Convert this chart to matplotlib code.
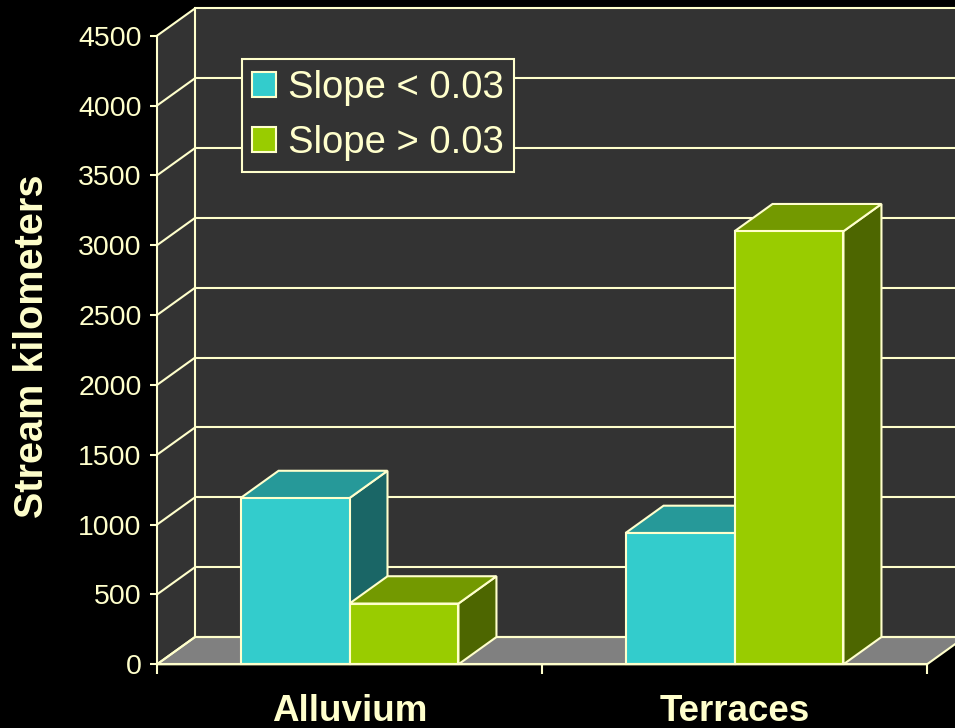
import matplotlib
matplotlib.use("Agg")
import matplotlib.pyplot as plt
from matplotlib.patches import Polygon, Rectangle

# ---- data -------------------------------------------------------------
categories = ["Alluvium", "Terraces"]
series_labels = ["Slope < 0.03", "Slope > 0.03"]
slope_low = [1190, 940]
slope_high = [435, 3100]
y_ticks = [0, 500, 1000, 1500, 2000, 2500, 3000, 3500, 4000, 4500]
y_label = "Stream kilometers"

# ---- style ------------------------------------------------------------
LINE = "#FFFFCC"
WALL = "#333333"
FLOOR = "#808080"
faces = [
    # front, top, side
    ("#33CCCC", "#269999", "#1A6666"),
    ("#99CC00", "#739900", "#4D6600"),
]
LW = 1.5
plt.rcParams["font.family"] = ["Liberation Sans", "DejaVu Sans"]

W, H = 955, 728
fig = plt.figure(figsize=(W / 100, H / 100), dpi=100, facecolor="black")

# front plane of the 3-D box, in pixels
px_left, px_right = 157, 927
px_bottom, px_top = 664.3, 35.7
ax = fig.add_axes([px_left / W, 1 - px_bottom / H,
                   (px_right - px_left) / W, (px_bottom - px_top) / H])
ymax = y_ticks[-1]
ncat = len(categories)
ax.set_xlim(0, ncat)
ax.set_ylim(0, ymax)
ax.set_facecolor("black")

# depth offset of the box (data units)
dx = 38 / (px_right - px_left) * ncat
dy = 27.3 / ((px_bottom - px_top) / ymax)
far = ncat + dx + 0.3

# walls and floor
ax.add_patch(Polygon([(dx, dy), (far, dy), (far, ymax + dy), (dx, ymax + dy)],
                     closed=True, fc=WALL, ec="none", zorder=0, clip_on=False))
ax.add_patch(Polygon([(0, 0), (dx, dy), (dx, ymax + dy), (0, ymax)],
                     closed=True, fc=WALL, ec="none", zorder=0, clip_on=False))
ax.add_patch(Polygon([(0, 0), (ncat, 0), (ncat + dx, dy), (dx, dy)],
                     closed=True, fc=FLOOR, ec=LINE, lw=LW, zorder=1,
                     clip_on=False, joinstyle="miter"))

# gridlines: diagonal on the side wall, horizontal on the back wall
for v in y_ticks:
    ax.plot([0, dx], [v, v + dy], color=LINE, lw=LW, zorder=1.5,
            clip_on=False, solid_capstyle="butt")
    ax.plot([dx, far], [v + dy, v + dy], color=LINE, lw=LW, zorder=1.5,
            clip_on=False, solid_capstyle="butt")
ax.plot([dx, dx], [dy, ymax + dy], color=LINE, lw=LW, zorder=1.5, clip_on=False)

# 3-D bars
bar_w = 0.283
gap = (1 - 2 * bar_w) / 2
for j, vals in enumerate([slope_low, slope_high]):
    front, top, side = faces[j]
    x0s = [i + gap + j * bar_w for i in range(ncat)]
    z = 3 + 2 * j
    for x0, v in zip(x0s, vals):
        ax.add_patch(Polygon([(x0 + bar_w, 0), (x0 + bar_w + dx, dy),
                              (x0 + bar_w + dx, v + dy), (x0 + bar_w, v)],
                             closed=True, fc=side, ec=LINE, lw=LW, zorder=z,
                             clip_on=False))
        ax.add_patch(Polygon([(x0, v), (x0 + bar_w, v),
                              (x0 + bar_w + dx, v + dy), (x0 + dx, v + dy)],
                             closed=True, fc=top, ec=LINE, lw=LW, zorder=z,
                             clip_on=False))
    ax.bar(x0s, vals, width=bar_w, align="edge", color=front, edgecolor=LINE,
           linewidth=LW, zorder=z + 1, clip_on=False)

# axes lines and ticks
for s in ("top", "right"):
    ax.spines[s].set_visible(False)
for s in ("left", "bottom"):
    ax.spines[s].set_color(LINE)
    ax.spines[s].set_linewidth(LW)
    ax.spines[s].set_zorder(10)

ax.set_yticks(y_ticks)
ax.set_yticklabels([str(v) for v in y_ticks])
ax.tick_params(axis="y", colors=LINE, length=5, width=LW, labelsize=20.5, pad=6)

ax.set_xticks(range(ncat + 1))
ax.set_xticklabels([])
ax.tick_params(axis="x", which="major", colors=LINE, length=7, width=LW)
ax.set_xticks([i + 0.5 for i in range(ncat)], minor=True)
ax.set_xticklabels(categories, minor=True, fontsize=26.5, fontweight="bold",
                   color=LINE)
ax.tick_params(axis="x", which="minor", length=0, pad=21.5)

ax.set_ylabel(y_label, fontsize=28.5, fontweight="bold", color=LINE, va="center")
ax.yaxis.set_label_coords(-0.162, 0.506)

# legend
handles = [Rectangle((0, 0), 1, 1, fc=f[0], ec=LINE, lw=LW) for f in faces]
leg = ax.legend(handles, series_labels, loc="upper left",
                bbox_to_anchor=(241.7 / W, 1 - 59.3 / H),
                bbox_transform=fig.transFigure, borderaxespad=0,
                fontsize=27.5, labelcolor=LINE, frameon=True, fancybox=False,
                facecolor=WALL, edgecolor=LINE, framealpha=1,
                handlelength=0.62, handleheight=0.62, handletextpad=0.3,
                labelspacing=0.5, borderpad=0.28)
leg.get_frame().set_linewidth(LW)
leg.set_zorder(20)

fig.savefig("out.png", dpi=100, facecolor="black")
